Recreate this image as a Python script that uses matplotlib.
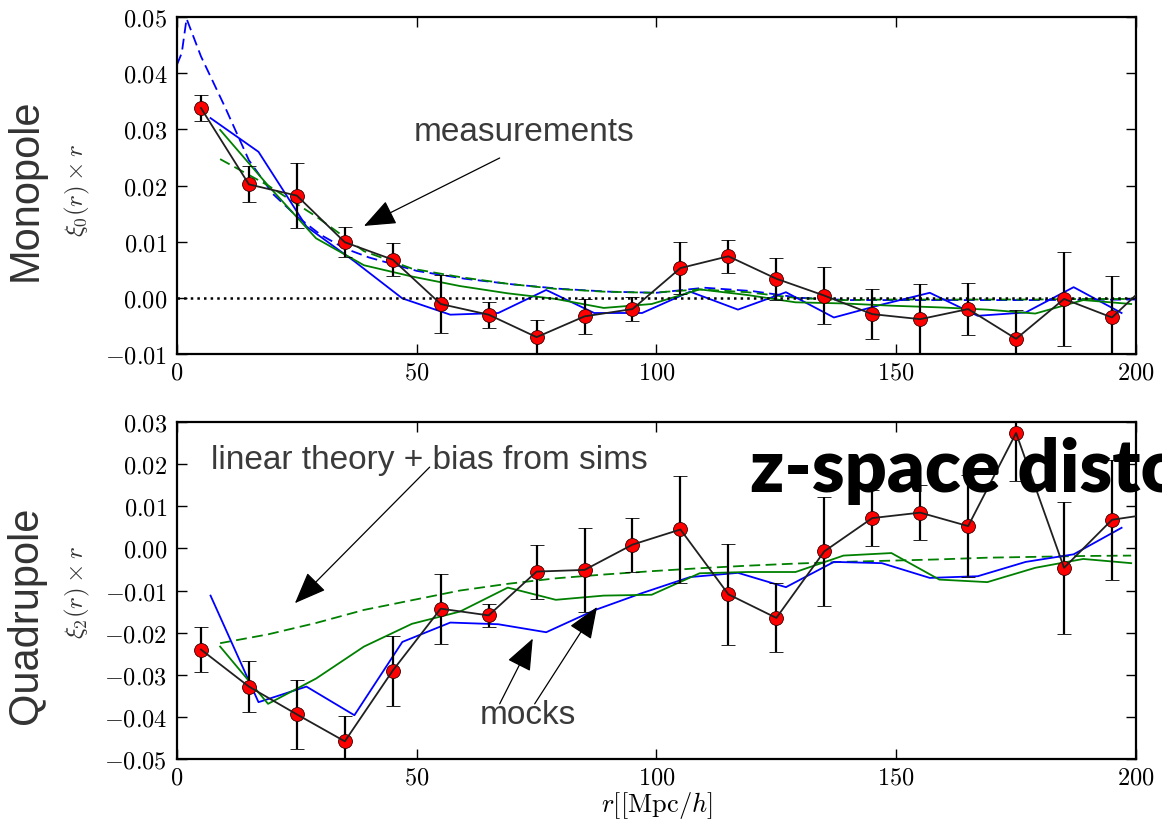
import numpy as np
import matplotlib
matplotlib.use('Agg')
import matplotlib.pyplot as plt
from matplotlib.ticker import FuncFormatter, MultipleLocator

plt.rcParams['mathtext.fontset'] = 'cm'

# measurements (bins of 10 Mpc/h); last point lies just past the axis edge
r_meas = [5, 15, 25, 35, 45, 55, 65, 75, 85, 95, 105, 115, 125, 135, 145, 155, 165, 175, 185, 195, 205]
mono = [0.0338, 0.0202, 0.0182, 0.0099, 0.0068, -0.0011, -0.0030, -0.0070, -0.0033, -0.0020,
        0.0053, 0.0074, 0.0034, 0.0004, -0.0029, -0.0038, -0.0020, -0.0073, -0.0002, -0.0035, 0.0045]
mono_err = [0.0023, 0.0032, 0.0058, 0.0027, 0.0029, 0.0051, 0.0023, 0.0030, 0.0031, 0.0022,
            0.0047, 0.0029, 0.0037, 0.0051, 0.0045, 0.0062, 0.0046, 0.0052, 0.0084, 0.0074, 0.0]
quad = [-0.0240, -0.0328, -0.0394, -0.0458, -0.0290, -0.0143, -0.0159, -0.0055, -0.0051, 0.0009,
        0.0045, -0.0109, -0.0165, -0.0007, 0.0072, 0.0085, 0.0053, 0.0274, -0.0046, 0.0068, 0.0085]
quad_err = [0.0053, 0.0060, 0.0082, 0.0060, 0.0083, 0.0083, 0.0027, 0.0064, 0.0100, 0.0064,
            0.0127, 0.0120, 0.0082, 0.0129, 0.0067, 0.0066, 0.0121, 0.0114, 0.0157, 0.0142, 0.0]

# mocks
r_blue = [7, 17, 27, 37, 47, 57, 67, 77, 87, 97, 107, 117, 127, 137, 147, 157, 167, 177, 187, 197]
r_green = [9, 19, 29, 39, 49, 59, 69, 79, 89, 99, 109, 119, 129, 139, 149, 159, 169, 179, 189, 199]
mono_blue = [0.0320, 0.0260, 0.0127, 0.0065, -0.0001, -0.0030, -0.0027, 0.0014, -0.0027, -0.0027,
             0.0011, -0.0021, 0.0010, -0.0035, -0.0012, 0.0009, -0.0032, -0.0026, 0.0019, -0.0027]
mono_green = [0.0299, 0.0200, 0.0106, 0.0058, 0.0038, 0.0021, 0.0008, -0.0002, -0.0018, -0.0011,
              0.0015, 0.0005, -0.0008, -0.0010, -0.0014, -0.0017, -0.0021, -0.0028, -0.0004, -0.0011]
quad_blue = [-0.0112, -0.0365, -0.0328, -0.0396, -0.0222, -0.0176, -0.0180, -0.0199, -0.0147, -0.0106,
             -0.0068, -0.0058, -0.0092, -0.0032, -0.0035, -0.0070, -0.0066, -0.0032, -0.0014, 0.0049]
quad_green = [-0.0233, -0.0369, -0.0309, -0.0233, -0.0179, -0.0150, -0.0093, -0.0122, -0.0112, -0.0110,
              -0.0059, -0.0056, -0.0056, -0.0017, -0.0011, -0.0074, -0.0080, -0.0046, -0.0025, -0.0035]

# linear theory + bias
mono_green_th = [0.0247, 0.0200, 0.0145, 0.0083, 0.0052, 0.0037, 0.0025, 0.0016, 0.0011, 0.0009,
                 0.0015, 0.0010, 0.0000, -0.0004, -0.0003, -0.0003, -0.0003, -0.0003, -0.0002, -0.0002]
quad_green_th = [-0.0225, -0.0204, -0.0177, -0.0146, -0.0123, -0.0100, -0.0084, -0.0071, -0.0062, -0.0054,
                 -0.0047, -0.0041, -0.0036, -0.0032, -0.0029, -0.0026, -0.0022, -0.0020, -0.0018, -0.0017]
r_blue_th = [0, 1, 2, 5, 10, 15, 20, 25, 30, 35, 40, 50, 60, 70, 80, 90, 100, 110, 120, 130, 140, 160, 180, 200]
mono_blue_th = [0.0415, 0.0436, 0.0497, 0.0430, 0.0340, 0.0245, 0.0185, 0.0145, 0.0112, 0.0088, 0.0072, 0.0048,
                0.0034, 0.0024, 0.0016, 0.0011, 0.0009, 0.0018, 0.0012, 0.0000, -0.0004, -0.0004, -0.0004, -0.0003]

BLUE = '#0000ff'
GREEN = '#008000'
GREY = '#3a3a3a'
DASH = (0, (6, 3))


def fmt_y(v, pos):
    if abs(v) < 1e-9:
        v = 0.0
    return '$%.2f$' % v


def fmt_x(v, pos):
    return '$%d$' % v


def style_axes(ax, ylim, ystep):
    ax.set_xlim(0, 200)
    ax.set_ylim(*ylim)
    ax.xaxis.set_major_locator(MultipleLocator(50))
    ax.yaxis.set_major_locator(MultipleLocator(ystep))
    ax.xaxis.set_major_formatter(FuncFormatter(fmt_x))
    ax.yaxis.set_major_formatter(FuncFormatter(fmt_y))
    ax.tick_params(direction='in', top=True, right=True, length=7, width=1, labelsize=17.5)
    ax.tick_params(axis='y', pad=7)
    ax.tick_params(axis='x', pad=5)
    for s in ax.spines.values():
        s.set_linewidth(1.6)


def draw_meas(ax, y, yerr):
    ax.errorbar(r_meas, y, yerr=yerr, fmt='o', ms=10, mfc='red', mec='#300000', mew=0.6,
                ecolor='black', elinewidth=1.6, capsize=5, capthick=1.6, zorder=3)
    ax.plot(r_meas, y, '-', color='#202020', lw=1.3, zorder=4)


def arrow(ax, tip, start):
    ax.annotate('', xy=tip, xytext=start,
                arrowprops=dict(arrowstyle='-|>,head_length=1.0,head_width=0.4', mutation_scale=20,
                                color='black', lw=0.9, shrinkA=0, shrinkB=0))


fig = plt.figure(figsize=(11.62, 8.3), dpi=100)
ax1 = fig.add_axes([0.1523, 0.5735, 0.8253, 0.406])
ax2 = fig.add_axes([0.1523, 0.0855, 0.8253, 0.406])

# Monopole
ax1.plot(r_blue_th, mono_blue_th, color=BLUE, lw=1.3, ls=DASH, zorder=2)
ax1.plot(r_green, mono_green_th, color=GREEN, lw=1.3, ls=DASH, zorder=2)
ax1.plot(r_blue, mono_blue, color=BLUE, lw=1.3, zorder=2)
ax1.plot(r_green, mono_green, color=GREEN, lw=1.3, zorder=2)
ax1.axhline(0, color='black', ls=':', lw=1.8, zorder=2)
draw_meas(ax1, mono, mono_err)
style_axes(ax1, (-0.01, 0.05), 0.01)

ax1.text(72.3, 0.0294, 'measurements', fontsize=24, color=GREY, family='Liberation Sans',
         ha='center', va='center')
arrow(ax1, (39.0, 0.0128), (67.3, 0.0249))

# Quadrupole
ax2.plot(r_green, quad_green_th, color=GREEN, lw=1.3, ls=DASH, zorder=2)
ax2.plot(r_blue, quad_blue, color=BLUE, lw=1.3, zorder=2)
ax2.plot(r_green, quad_green, color=GREEN, lw=1.3, zorder=2)
draw_meas(ax2, quad, quad_err)
style_axes(ax2, (-0.05, 0.03), 0.01)
ax2.set_xlabel(r'$r[[\mathrm{Mpc}/h]$', fontsize=19, labelpad=0)

ax2.text(52.6, 0.0209, 'linear theory + bias from sims', fontsize=24, color=GREY,
         family='Liberation Sans', ha='center', va='center')
arrow(ax2, (24.6, -0.0130), (52.7, 0.0193))
ax2.text(73.2, -0.0397, 'mocks', fontsize=24, color=GREY, family='Liberation Sans',
         ha='center', va='center')
arrow(ax2, (74.2, -0.0214), (67.3, -0.0369))
arrow(ax2, (87.6, -0.0139), (74.6, -0.0369))

# side labels
fig.text(26 / 1162, 1 - 190 / 830, 'Monopole', rotation=90, fontsize=30, color='#333333',
         family='Liberation Sans', ha='center', va='center')
fig.text(26 / 1162, 1 - 615 / 830, 'Quadrupole', rotation=90, fontsize=30, color='#333333',
         family='Liberation Sans', ha='center', va='center')
fig.text(77 / 1162, 1 - 190 / 830, r'$\xi_0(r)\times r$', rotation=90, fontsize=18,
         color='#333333', ha='center', va='center')
fig.text(77 / 1162, 1 - 592 / 830, r'$\xi_2(r)\times r$', rotation=90, fontsize=18,
         color='#333333', ha='center', va='center')

# slide title overlapping the lower panel (runs off the right edge as in the original)
fig.text(750 / 1162, 1 - 492 / 830, 'z-space distortions', fontsize=53, fontweight='heavy',
         family='Lato', color='black', ha='left', va='baseline', zorder=10)

fig.savefig('out.png', dpi=100)
